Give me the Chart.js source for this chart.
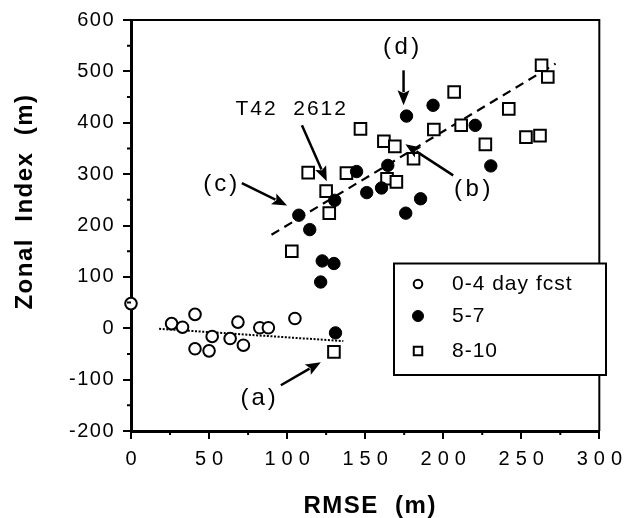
<!DOCTYPE html>
<html>
<head>
<meta charset="utf-8">
<script src="https://cdn.jsdelivr.net/npm/chart.js@4.4.1/dist/chart.umd.min.js"></script>
<style>
html,body{margin:0;padding:0;background:#fff;}
canvas{display:block;}
</style>
</head>
<body>
<canvas id="chart" width="624" height="518" style="width:624px;height:518px"></canvas>
<script>
// ---- data ----
const xTickValues = [0, 50, 100, 150, 200, 250, 300];
const yTickValues = [-200, -100, 0, 100, 200, 300, 400, 500, 600];
const seriesNames = ['0-4 day fcst', '5-7', '8-10'];

const shortRangeX = [0, 26, 33, 41, 41, 50, 52, 63.5, 68.5, 72, 82.5, 88, 105];
const shortRangeY = [48, 9, 2, 27, -40, -44, -16, -20, 12, -33, 1, 1, 19];

const mediumRangeX = [107.5, 114.5, 121.5, 122.5, 130, 130.5, 131, 144.5, 151, 160.5, 164.5, 176, 176.5, 185.5, 193.5, 220.5, 230.5];
const mediumRangeY = [220, 192, 90, 131, 126, 249, -9, 305, 264, 273, 317, 224, 413, 252, 434, 395, 316];

const longRangeX = [103, 113.5, 125, 127, 130, 138, 147, 162, 164, 169, 170, 181, 194, 207, 211.5, 227, 242, 253, 262, 263, 267];
const longRangeY = [150, 303, 267, 224, -46, 302, 388, 364, 291, 354, 285, 330, 387, 460, 395, 358, 427, 372, 375, 512, 489];

const shortFitX = [18, 136];
const shortFitY = [-1, -25];
const longFitX = [90, 272];
const longFitY = [182, 515];

// ---- annotation texts (placed in data units) ----
const annotations = [
  { text: '(a)', at: [81.4, -137], from: [96, -111], to: [121.6, -66], size: 24, ls: 3 },
  { text: '(c)', at: [57.2, 280], from: [71, 282.5], to: [100, 239], size: 24, ls: 3 },
  { text: 'T42  2612', at: [102.3, 426], from: [109.5, 395], to: [125.4, 286], size: 21, ls: 2 },
  { text: '(d)', at: [173, 546], from: [174.6, 502], to: [174.6, 434], size: 24, ls: 3.5 },
  { text: '(b)', at: [218.6, 270], from: [206.4, 297.5], to: [175.8, 358], size: 24, ls: 3.5 }
];

const FONT = "'Liberation Sans', Arial, Helvetica, sans-serif";

function pts(xs, ys) { return xs.map((x, i) => ({ x: x, y: ys[i] })); }

const datasets = [
  { label: seriesNames[0], data: pts(shortRangeX, shortRangeY), pointStyle: 'circle', pointRadius: 5.8, pointBorderWidth: 2, pointBackgroundColor: '#fff', pointBorderColor: '#000', backgroundColor: '#fff', borderColor: '#000', clip: false, legendRadius: 4.3 },
  { label: seriesNames[1], data: pts(mediumRangeX, mediumRangeY), pointStyle: 'circle', pointRadius: 6.2, pointBorderWidth: 1, pointBackgroundColor: '#000', pointBorderColor: '#000', backgroundColor: '#000', borderColor: '#000', clip: false, legendRadius: 5.5 },
  { label: seriesNames[2], data: pts(longRangeX, longRangeY), pointStyle: 'rect', pointRadius: 8.2, pointBorderWidth: 2, pointBackgroundColor: '#fff', pointBorderColor: '#000', backgroundColor: '#fff', borderColor: '#000', clip: false, legendRadius: 6 },
  { label: 'fit 0-4', type: 'line', data: pts(shortFitX, shortFitY), showLine: true, pointRadius: 0, borderColor: '#000', borderWidth: 2, borderDash: [2, 1.6], fill: false, clip: false, isFit: true },
  { label: 'fit 5-10', type: 'line', data: pts(longFitX, longFitY), showLine: true, pointRadius: 0, borderColor: '#000', borderWidth: 2.2, borderDash: [9, 6], fill: false, clip: false, isFit: true }
];

function wrap(scale, name, fn) {
  const orig = scale[name].bind(scale);
  scale[name] = function (a) { fn(orig, a); };
}

const decor = {
  id: 'decor',
  beforeDraw(chart) {
    const ctx = chart.ctx;
    const sx = chart.scales.x, sy = chart.scales.y;
    if (!sx.__wrapped) {
      sx.__wrapped = true;
      wrap(sx, 'drawLabels', (o, a) => { ctx.save(); ctx.letterSpacing = '6px'; ctx.translate(3, 0); o(a); ctx.restore(); });
      wrap(sx, 'drawTitle', (o, a) => { ctx.save(); ctx.letterSpacing = '1.5px'; ctx.translate(5, 0); o(a); ctx.restore(); });
    }
    if (!sy.__wrapped) {
      sy.__wrapped = true;
      wrap(sy, 'drawLabels', (o, a) => { ctx.save(); ctx.letterSpacing = '1.5px'; o(a); ctx.restore(); });
      wrap(sy, 'drawTitle', (o, a) => { ctx.save(); ctx.letterSpacing = '1.5px'; ctx.translate(0, -24); o(a); ctx.restore(); });
    }
  },
  afterDraw(chart) {
    const ctx = chart.ctx;
    const a = chart.chartArea;
    const sx = chart.scales.x, sy = chart.scales.y;
    ctx.save();
    ctx.strokeStyle = '#000';
    // frame top/right
    ctx.lineWidth = 2;
    ctx.beginPath();
    ctx.moveTo(a.left, a.top); ctx.lineTo(a.right, a.top); ctx.lineTo(a.right, a.bottom);
    ctx.stroke();
    // minor ticks
    ctx.lineWidth = 2;
    ctx.beginPath();
    for (let i = 0; i < xTickValues.length - 1; i++) {
      const v = (xTickValues[i] + xTickValues[i + 1]) / 2;
      const px = sx.getPixelForValue(v);
      ctx.moveTo(px, a.bottom); ctx.lineTo(px, a.bottom + 4);
    }
    for (let i = 0; i < yTickValues.length - 1; i++) {
      const v = (yTickValues[i] + yTickValues[i + 1]) / 2;
      const py = sy.getPixelForValue(v);
      ctx.moveTo(a.left - 4, py); ctx.lineTo(a.left, py);
    }
    ctx.stroke();

    // annotations
    ctx.fillStyle = '#000';
    ctx.textAlign = 'center';
    ctx.textBaseline = 'middle';
    annotations.forEach(an => {
      ctx.save();
      ctx.font = an.size + 'px ' + FONT;
      ctx.letterSpacing = an.ls + 'px';
      ctx.fillText(an.text, sx.getPixelForValue(an.at[0]) + an.ls / 2, sy.getPixelForValue(an.at[1]));
      ctx.restore();
      const x1 = sx.getPixelForValue(an.from[0]), y1 = sy.getPixelForValue(an.from[1]);
      const x2 = sx.getPixelForValue(an.to[0]), y2 = sy.getPixelForValue(an.to[1]);
      const ang = Math.atan2(y2 - y1, x2 - x1);
      const hl = 15, hw = 6;
      const bx = x2 - hl * Math.cos(ang), by = y2 - hl * Math.sin(ang);
      ctx.lineWidth = 2.5;
      ctx.beginPath(); ctx.moveTo(x1, y1); ctx.lineTo(bx + 2 * Math.cos(ang), by + 2 * Math.sin(ang)); ctx.stroke();
      ctx.beginPath();
      ctx.moveTo(x2, y2);
      ctx.lineTo(bx + hw * Math.sin(ang), by - hw * Math.cos(ang));
      ctx.lineTo(bx + 3 * Math.cos(ang), by + 3 * Math.sin(ang));
      ctx.lineTo(bx - hw * Math.sin(ang), by + hw * Math.cos(ang));
      ctx.closePath();
      ctx.fill();
    });

    // legend box
    const L = 394, T = 263.5, R = 606, B = 375;
    ctx.fillStyle = '#fff';
    ctx.fillRect(L, T, R - L, B - T);
    ctx.lineWidth = 2;
    ctx.strokeStyle = '#000';
    ctx.strokeRect(L, T, R - L, B - T);
    const rows = [284, 316, 351];
    chart.data.datasets.filter(d => !d.isFit).forEach((d, i) => {
      const mx = 418, my = rows[i], r = d.legendRadius;
      ctx.fillStyle = d.pointBackgroundColor;
      ctx.strokeStyle = d.pointBorderColor;
      ctx.lineWidth = d.pointBorderWidth;
      ctx.beginPath();
      if (d.pointStyle === 'rect') {
        const h = r * Math.SQRT1_2;
        ctx.rect(mx - h, my - h, 2 * h, 2 * h);
      } else {
        ctx.arc(mx, my, r, 0, Math.PI * 2);
      }
      ctx.fill();
      ctx.stroke();
      ctx.save();
      ctx.fillStyle = '#000';
      ctx.font = '21px ' + FONT;
      ctx.letterSpacing = '1px';
      ctx.textAlign = 'left';
      ctx.textBaseline = 'middle';
      ctx.fillText(d.label, 452, my);
      ctx.restore();
    });
    ctx.restore();
  }
};

new Chart(document.getElementById('chart'), {
  type: 'scatter',
  data: { datasets: datasets },
  options: {
    responsive: false,
    animation: false,
    devicePixelRatio: 1,
    layout: { padding: { left: 0, top: 19, right: 22, bottom: 0 } },
    plugins: { legend: { display: false }, tooltip: { enabled: false } },
    scales: {
      x: {
        type: 'linear', min: xTickValues[0], max: xTickValues[xTickValues.length - 1],
        afterBuildTicks: s => { s.ticks = xTickValues.map(v => ({ value: v })); },
        ticks: { color: '#000', font: { family: FONT, size: 20 }, padding: 8, maxRotation: 0, autoSkip: false },
        grid: { display: true, drawOnChartArea: false, drawTicks: true, tickLength: 8, color: '#000', lineWidth: 2 },
        border: { display: true, color: '#000', width: 3 },
        title: { display: true, text: 'RMSE  (m)', color: '#000', font: { family: FONT, size: 24, weight: 'bold', lineHeight: 1 }, padding: { top: 0, bottom: 0 } },
        afterFit: s => { s.height = 87; }
      },
      y: {
        type: 'linear', min: yTickValues[0], max: yTickValues[yTickValues.length - 1],
        afterBuildTicks: s => { s.ticks = yTickValues.map(v => ({ value: v })); },
        ticks: { color: '#000', font: { family: FONT, size: 20 }, padding: 8, autoSkip: false },
        grid: { display: true, drawOnChartArea: false, drawTicks: true, tickLength: 8, color: '#000', lineWidth: 2 },
        border: { display: true, color: '#000', width: 3 },
        title: { display: true, text: 'Zonal  Index  (m)', color: '#000', font: { family: FONT, size: 24, weight: 'bold', lineHeight: 1.2 }, padding: { top: 11, bottom: 0 } },
        afterFit: s => { s.width = 131; }
      }
    }
  },
  plugins: [decor]
});
</script>
</body>
</html>
